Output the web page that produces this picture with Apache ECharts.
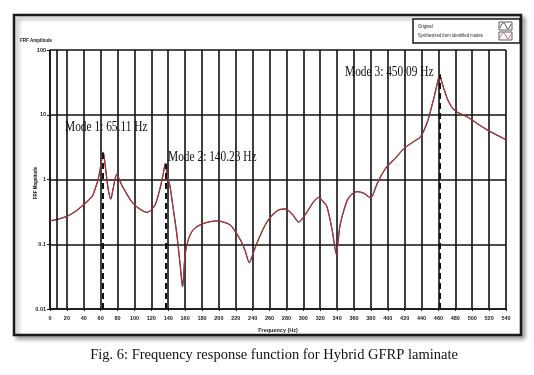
<!DOCTYPE html>
<html><head><meta charset="utf-8">
<script src="https://cdn.jsdelivr.net/npm/echarts@6/dist/echarts.min.js"></script>
<style>html,body{margin:0;padding:0;background:#fff}#c{width:534px;height:375px}</style>
</head><body><div id="c"></div>
<script>
const freqHz = [0,10,20,30,40,50,53,57,60,63,66,69,72,75,79,85,97,105,115,120,125,130,134,136.5,139,142,146,150,154,157,160,164,170,182,197,213,225,231,236,241,245,255,263,271,279,287,294.5,300,306,312,318,324,328,334,339,343,346,352,358,364,372,379.6,387.5,393,399,410,419,430,439,447,451,455,459,461.5,464,467,471,476,481,494,506,518,530,540];
const frfMag = [0.23,0.245,0.27,0.32,0.41,0.55,0.69,1.0,1.6,2.65,1.4,0.7,0.5,0.75,1.2,0.82,0.45,0.36,0.31,0.34,0.42,0.7,1.2,1.75,1.1,0.8,0.35,0.15,0.05,0.022,0.07,0.12,0.17,0.21,0.23,0.2,0.12,0.08,0.052,0.075,0.104,0.2,0.28,0.34,0.35,0.29,0.22,0.26,0.34,0.45,0.53,0.45,0.38,0.17,0.071,0.18,0.27,0.48,0.6,0.65,0.61,0.52,0.87,1.2,1.58,2.2,3.0,3.8,4.6,7.8,12,19,32,42,32,24,17,13,11.2,9.3,7.3,5.8,4.8,4.1];
const modeFreq = [63, 136.5, 461.5];
const modePeak = [2.65, 1.75, 42];
const modeLabels = ['Mode 1: 65.11 Hz', 'Mode 2: 140.23 Hz', 'Mode 3: 450.09 Hz'];
const extraGridX = [8];
const legendNames = ['Original', 'Synthesized from identified modes'];
const yTickLabels = {0.01: '0.01', 0.1: '0.1', 1: '1', 10: '10', 100: '100'};

const pts = freqHz.map((f, i) => [f, frfMag[i]]);
const chart = echarts.init(document.getElementById('c'), null, {renderer: 'canvas'});
const labelPos = [[65, 127], [168, 157], [345, 72]];
const wave = (x, y, c) => ({type: 'polyline', shape: {points: [[x+1, y+6], [x+3, y+2], [x+5, y+1], [x+7, y+4], [x+9, y+7], [x+11, y+4], [x+12, y+2]], smooth: 0.4}, style: {stroke: c, lineWidth: 0.8, fill: null}, z: 20});
chart.setOption({
  animation: false,
  backgroundColor: '#fff',
  grid: {left: 50, top: 50, width: 456, height: 259, containLabel: false},
  xAxis: {
    type: 'value', min: 0, max: 540, interval: 20,
    name: 'Frequency (Hz)', nameLocation: 'middle', nameGap: 18,
    nameTextStyle: {fontSize: 5.5, fontWeight: 'bold', color: '#222', fontFamily: 'Liberation Sans'},
    axisLine: {show: true, lineStyle: {color: '#111', width: 1.5}},
    axisTick: {show: true, length: 2, lineStyle: {color: '#111'}},
    axisLabel: {fontSize: 5.5, fontWeight: 'bold', color: '#222', margin: 6, fontFamily: 'Liberation Sans'},
    splitLine: {show: true, lineStyle: {color: '#111', width: 1.6}}
  },
  yAxis: {
    type: 'log', logBase: 10, min: 0.01, max: 100,
    axisLine: {show: true, lineStyle: {color: '#111', width: 1.5}},
    axisTick: {show: true, length: 3, lineStyle: {color: '#111'}},
    axisLabel: {fontSize: 5.5, fontWeight: 'bold', color: '#222', margin: 4, fontFamily: 'Liberation Sans',
      formatter: v => yTickLabels[v] !== undefined ? yTickLabels[v] : String(v)},
    splitLine: {show: true, lineStyle: {color: '#111', width: 1.6}},
    minorSplitLine: {show: false}
  },
  series: [
    {name: legendNames[0], type: 'line', data: pts, showSymbol: false, smooth: 0.25,
     lineStyle: {color: '#333', width: 1}, z: 3,
     markLine: {silent: true, symbol: 'none', label: {show: false},
       lineStyle: {color: '#111', width: 1.6, type: 'solid'},
       data: extraGridX.map(x => ({xAxis: x}))}},
    {name: legendNames[1], type: 'line', data: pts, showSymbol: false, smooth: 0.25,
     lineStyle: {color: '#a3343c', width: 1.3}, z: 4,
     markLine: {silent: true, symbol: 'none', label: {show: false},
       lineStyle: {color: '#111', width: 2, type: [6, 4]},
       data: modeFreq.map((f, i) => [{coord: [f, 0.01]}, {coord: [f, modePeak[i]]}])}}
  ],
  graphic: [
    {type: 'rect', shape: {x: 14, y: 15, width: 507, height: 320}, style: {fill: '#fff', stroke: '#1a1a1a', lineWidth: 2.5, shadowBlur: 4, shadowOffsetX: 3, shadowOffsetY: 3, shadowColor: 'rgba(0,0,0,0.35)'}, z: -10},
    {type: 'text', x: 20, y: 40, style: {text: 'FRF Amplitude', fontSize: 6, fontWeight: 'bold', fill: '#222', fontFamily: 'Liberation Sans', textVerticalAlign: 'middle'}, scaleX: 0.75, z: 20},
    {type: 'text', x: 35, y: 183, rotation: Math.PI / 2, style: {text: 'FRF Magnitude', fontSize: 6, fontWeight: 'bold', fill: '#222', fontFamily: 'Liberation Sans', textAlign: 'center', textVerticalAlign: 'middle'}, scaleX: 0.75, z: 20},
    {type: 'rect', shape: {x: 413, y: 19, width: 107, height: 24}, style: {fill: '#fff', stroke: '#1a1a1a', lineWidth: 1.5}, z: 19},
    {type: 'text', x: 418, y: 27, style: {text: legendNames[0], fontSize: 5, fill: '#222', fontFamily: 'Liberation Sans', textVerticalAlign: 'middle'}, scaleX: 0.85, z: 20},
    {type: 'text', x: 418, y: 36, style: {text: legendNames[1], fontSize: 5, fill: '#222', fontFamily: 'Liberation Sans', textVerticalAlign: 'middle'}, scaleX: 0.85, z: 20},
    {type: 'rect', shape: {x: 499, y: 22, width: 13, height: 8}, style: {fill: '#fff', stroke: '#333', lineWidth: 0.8}, z: 20},
    {type: 'rect', shape: {x: 499, y: 32, width: 13, height: 8}, style: {fill: '#fff', stroke: '#333', lineWidth: 0.8}, z: 20},
    wave(499, 22, '#222'),
    wave(499, 32, '#c0404a'),
    ...modeLabels.map((t, i) => ({type: 'text', x: labelPos[i][0], y: labelPos[i][1], style: {text: t, fontSize: 15, fill: '#111', fontFamily: 'Liberation Serif', textVerticalAlign: 'middle'}, scaleX: 0.76, z: 20})),
    {type: 'text', x: 274, y: 355, style: {text: 'Fig. 6: Frequency response function for Hybrid GFRP laminate', fontSize: 14.5, fill: '#111', fontFamily: 'Liberation Serif', textAlign: 'center', textVerticalAlign: 'middle'}, z: 20}
  ]
});
</script></body></html>
